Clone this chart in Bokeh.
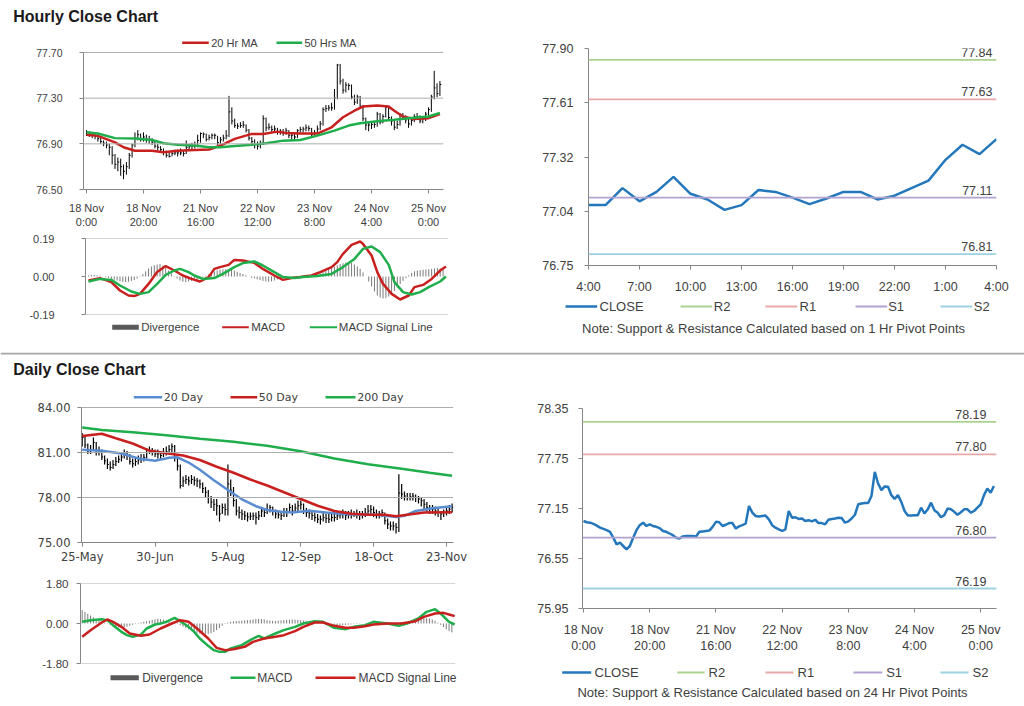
from bokeh.plotting import figure
from bokeh.models import Range1d, FixedTicker, Span
from bokeh.layouts import column, row
from bokeh.embed import file_html
from bokeh.resources import INLINE
from bokeh.core.properties import value

# ---------------------------------------------------------------- data
hourly_close = [
    77.00, 76.985, 76.98, 76.965, 76.945, 76.92, 76.905, 76.89, 76.87, 76.80,
    76.72, 76.74, 76.70, 76.66, 76.70, 76.80, 76.89, 76.95, 76.98, 76.94,
    76.96, 76.94, 76.93, 76.915, 76.88, 76.87, 76.85, 76.83, 76.80, 76.79,
    76.815, 76.82, 76.82, 76.82, 76.815, 76.87, 76.875, 76.88, 76.885, 76.93,
    76.99, 76.985, 76.94, 76.955, 76.975, 76.975, 76.91, 76.935, 76.95, 76.97,
    77.18, 77.10, 77.06, 77.055, 77.06, 77.065, 77.02, 76.95, 76.92, 76.90,
    76.88, 76.90, 77.12, 77.04, 77.045, 77.025, 77.03, 77.00, 77.01, 76.995,
    77.015, 76.975, 76.975, 76.96, 77.015, 77.025, 77.03, 77.04, 77.035, 76.98,
    76.995, 77.03, 77.075, 77.20, 77.21, 77.215, 77.215, 77.30, 77.59, 77.45,
    77.37, 77.415, 77.41, 77.31, 77.265, 77.31, 77.23, 77.12, 77.065, 77.065,
    77.07, 77.07, 77.16, 77.09, 77.14, 77.22, 77.13, 77.10, 77.045, 77.07,
    77.15, 77.14, 77.11, 77.075, 77.105, 77.14, 77.14, 77.10, 77.12, 77.16,
    77.20, 77.31, 77.39, 77.34, 77.42]
hourly_high = [
    77.02, 77.01, 77.00, 76.99, 76.97, 76.95, 76.93, 76.92, 76.90, 76.88,
    76.81, 76.78, 76.77, 76.72, 76.74, 76.82, 76.90, 77.00, 77.02, 76.99,
    77.00, 76.98, 76.97, 76.95, 76.93, 76.90, 76.88, 76.86, 76.84, 76.83,
    76.84, 76.85, 76.85, 76.86, 76.84, 76.93, 76.90, 76.91, 76.92, 76.98,
    77.00, 77.00, 76.99, 76.98, 76.99, 76.99, 76.97, 76.96, 76.98, 77.02,
    77.32, 77.22, 77.12, 77.08, 77.09, 77.10, 77.07, 77.03, 76.96, 76.94,
    76.92, 76.93, 77.15, 77.13, 77.08, 77.06, 77.06, 77.04, 77.03, 77.03,
    77.04, 77.02, 77.00, 77.00, 77.03, 77.05, 77.05, 77.07, 77.06, 77.04,
    77.02, 77.06, 77.10, 77.22, 77.24, 77.24, 77.26, 77.38, 77.60, 77.60,
    77.47, 77.44, 77.43, 77.42, 77.33, 77.33, 77.32, 77.24, 77.13, 77.09,
    77.09, 77.10, 77.18, 77.17, 77.16, 77.23, 77.23, 77.14, 77.11, 77.10,
    77.17, 77.17, 77.15, 77.12, 77.13, 77.16, 77.17, 77.15, 77.14, 77.18,
    77.22, 77.33, 77.54, 77.43, 77.45]
hourly_low = [
    76.97, 76.96, 76.95, 76.94, 76.92, 76.90, 76.88, 76.86, 76.80, 76.72,
    76.68, 76.66, 76.62, 76.59, 76.63, 76.68, 76.78, 76.87, 76.93, 76.92,
    76.92, 76.91, 76.90, 76.89, 76.86, 76.84, 76.82, 76.80, 76.78, 76.78,
    76.79, 76.80, 76.79, 76.80, 76.79, 76.81, 76.84, 76.85, 76.86, 76.87,
    76.91, 76.95, 76.92, 76.93, 76.94, 76.94, 76.89, 76.90, 76.92, 76.94,
    76.96, 77.07, 77.04, 77.03, 77.04, 77.04, 77.00, 76.93, 76.89, 76.86,
    76.85, 76.86, 76.89, 77.01, 77.02, 77.00, 77.00, 76.98, 76.98, 76.97,
    76.98, 76.95, 76.94, 76.94, 76.95, 77.00, 77.00, 77.01, 77.01, 76.96,
    76.97, 76.98, 77.02, 77.06, 77.18, 77.19, 77.19, 77.20, 77.29, 77.42,
    77.34, 77.35, 77.37, 77.29, 77.24, 77.25, 77.21, 77.10, 77.02, 77.01,
    77.03, 77.04, 77.05, 77.07, 77.08, 77.13, 77.10, 77.06, 77.02, 77.03,
    77.06, 77.11, 77.08, 77.04, 77.06, 77.09, 77.11, 77.08, 77.08, 77.10,
    77.14, 77.18, 77.29, 77.31, 77.32]
hourly_tick_idx = [0, 20, 40, 60, 80, 100, 120]
hourly_tick_labels = ["18 Nov\n0:00", "18 Nov\n20:00", "21 Nov\n16:00", "22 Nov\n12:00",
                      "23 Nov\n8:00", "24 Nov\n4:00", "25 Nov\n0:00"]
hourly_y_ticks = [76.5, 76.9, 77.3, 77.7]
hourly_y_labels = ["76.50", "76.90", "77.30", "77.70"]

ma20_idx = [0, 4, 10, 13, 17, 23, 27, 32, 38, 43, 47, 52, 58, 62, 67, 70, 75, 81, 86, 90,
            94, 97, 102, 106, 108, 111, 115, 120, 124]
ma20_val = [76.98, 76.97, 76.913, 76.87, 76.84, 76.84, 76.826, 76.84, 76.847, 76.85,
            76.885, 76.943, 76.987, 76.987, 77.007, 76.995, 76.99, 76.99, 77.045, 77.133,
            77.19, 77.226, 77.235, 77.226, 77.19, 77.139, 77.118, 77.125, 77.16]
ma50_idx = [0, 4, 10, 17, 23, 27, 32, 38, 43, 47, 52, 58, 63, 69, 75, 81, 87, 92, 96, 102,
            108, 114, 120, 124]
ma50_val = [77.001, 76.99, 76.95, 76.947, 76.934, 76.905, 76.893, 76.885, 76.87, 76.87,
            76.88, 76.893, 76.905, 76.928, 76.934, 76.972, 77.016, 77.06, 77.08, 77.098,
            77.11, 77.127, 77.139, 77.17]

hmacd_idx = [0, 4, 8, 11, 14, 16, 18, 21, 24, 27, 30, 33, 36, 39, 42, 44, 46, 49, 51, 54,
             58, 61, 65, 68, 71, 74, 78, 81, 85, 87, 89, 92, 95, 96, 99, 101, 103, 106, 109,
             112, 114, 117, 120, 123, 125]
hmacd_val = [-0.02, -0.008, -0.028, -0.07, -0.095, -0.098, -0.087, -0.037, 0.022, 0.052,
             0.03, 0.005, -0.012, -0.025, -0.003, 0.038, 0.047, 0.058, 0.083, 0.08,
             0.068, 0.038, 0.005, -0.017, -0.008, -0.003, 0.005, 0.022, 0.047, 0.072,
             0.113, 0.158, 0.175, 0.163, 0.105, 0.022, -0.037, -0.087, -0.115,
             -0.095, -0.053, -0.042, -0.012, 0.03, 0.05]
hsig_idx = [0, 4, 8, 11, 15, 18, 21, 24, 27, 30, 32, 35, 37, 40, 44, 47, 51, 54, 58, 61,
            65, 68, 72, 75, 80, 85, 89, 93, 96, 99, 102, 105, 107, 110, 113, 116, 119, 123, 125]
hsig_val = [-0.025, -0.012, -0.017, -0.045, -0.075, -0.087, -0.078, -0.037, 0.008, 0.03,
            0.038, 0.022, 0.005, -0.012, -0.008, 0.013, 0.047, 0.067, 0.075, 0.055,
            0.022, -0.003, -0.008, -0.003, 0.002, 0.013, 0.047, 0.088, 0.138, 0.15,
            0.122, 0.058, -0.028, -0.078, -0.09, -0.078, -0.053, -0.025, 0.0]
hourly_div = [
    0.005, 0.008, 0.008, 0.006, 0.004, 0.0, -0.004, -0.008,
    -0.012, -0.016, -0.020, -0.025, -0.027, -0.028, -0.026, -0.022,
    -0.018, -0.010, -0.002, 0.012, 0.026, 0.040, 0.050, 0.056,
    0.060, 0.062, 0.055, 0.044, 0.030, 0.015, 0.002, -0.010,
    -0.020, -0.026, -0.028, -0.025, -0.022, -0.018, -0.015, -0.010,
    -0.004, 0.004, 0.010, 0.018, 0.025, 0.030, 0.034, 0.036,
    0.036, 0.035, 0.034, 0.030, 0.024, 0.018, 0.012, 0.006,
    0.0, -0.006, -0.010, -0.014, -0.018, -0.022, -0.025, -0.026,
    -0.024, -0.020, -0.015, -0.010, -0.006, -0.003, 0.0, 0.002,
    0.003, 0.002, 0.001, 0.002, 0.004, 0.006, 0.008, 0.012,
    0.016, 0.020, 0.026, 0.032, 0.038, 0.044, 0.050, 0.056,
    0.062, 0.066, 0.070, 0.072, 0.068, 0.060, 0.050, 0.038,
    0.020, 0.000, -0.025, -0.050, -0.075, -0.095, -0.105, -0.110,
    -0.108, -0.100, -0.088, -0.072, -0.055, -0.038, -0.022, -0.008,
    0.006, 0.018, 0.026, 0.030, 0.032, 0.034, 0.035, 0.036,
    0.038, 0.040, 0.042, 0.040, 0.038]
hmacd_y_ticks = [-0.19, 0.0, 0.19]
hmacd_y_labels = ["-0.19", "0.00", "0.19"]

# 1 Hr pivot chart (last 25 hourly closes)
pivot1_tick_idx = [0, 3, 6, 9, 12, 15, 18, 21, 24]
pivot1_tick_labels = ["4:00", "7:00", "10:00", "13:00", "16:00", "19:00", "22:00", "1:00", "4:00"]
pivot1_y_ticks = [76.75, 77.0375, 77.325, 77.6125, 77.90]
pivot1_y_labels = ["76.75", "77.04", "77.32", "77.61", "77.90"]
pivot_names = ["R2", "R1", "S1", "S2"]
pivot1_levels = [77.84, 77.63, 77.11, 76.81]

# 24 Hr pivot chart
pivot24_y_ticks = [75.95, 76.55, 77.15, 77.75, 78.35]
pivot24_y_labels = ["75.95", "76.55", "77.15", "77.75", "78.35"]
pivot24_levels = [78.19, 77.80, 76.80, 76.19]

# daily
daily_close = [
    82.0, 81.5, 81.1, 81.2, 81.67, 81.0, 81.1, 80.7, 80.45, 80.2,
    80.0, 80.2, 80.4, 80.55, 80.7, 80.9, 80.8, 80.4, 80.25, 80.4,
    80.5, 80.56, 80.67, 81.0, 81.15, 81.05, 80.9, 80.9, 80.8, 80.95,
    81.05, 81.2, 81.4, 80.67, 80.1, 78.8, 79.1, 79.2, 79.1, 79.2,
    79.15, 79.1, 78.9, 78.6, 78.35, 78.0, 77.7, 77.55, 77.45, 76.9,
    77.33, 77.2, 78.9, 78.5, 77.8, 77.1, 77.0, 76.9, 76.78, 76.7,
    76.75, 76.78, 76.67, 76.78, 77.1, 77.0, 77.2, 77.33, 77.1, 76.9,
    76.85, 76.8, 77.0, 77.0, 77.33, 77.1, 77.3, 77.45, 77.55, 77.1,
    77.0, 76.95, 76.8, 76.67, 76.55, 76.55, 76.67, 76.6, 76.55, 76.67,
    76.67, 76.78, 76.85, 76.9, 76.8, 76.85, 76.9, 76.9, 76.9, 76.8,
    76.85, 76.95, 77.1, 77.2, 77.0, 76.9, 76.9, 77.0, 76.45, 76.22,
    76.1, 76.1, 76.0, 78.3, 78.22, 78.1, 78.0, 78.05, 78.1, 78.0,
    77.9, 77.78, 77.55, 77.35, 77.22, 77.22, 77.1, 77.0, 76.9, 77.0,
    77.1, 77.22, 77.35]
daily_high = [
    82.3, 82.1, 81.6, 81.5, 82.0, 81.7, 81.4, 81.2, 80.8, 80.6,
    80.4, 80.5, 80.7, 80.8, 81.0, 81.2, 81.1, 80.9, 80.6, 80.7,
    80.8, 80.9, 80.9, 81.3, 81.4, 81.3, 81.2, 81.2, 81.1, 81.3,
    81.4, 81.5, 81.6, 81.5, 80.7, 80.2, 79.4, 79.5, 79.4, 79.5,
    79.4, 79.3, 79.2, 79.0, 78.7, 78.5, 78.1, 77.9, 77.9, 77.5,
    77.6, 77.6, 80.2, 79.2, 78.7, 77.9, 77.4, 77.2, 77.1, 77.0,
    77.0, 77.0, 77.0, 77.1, 77.3, 77.3, 77.6, 77.5, 77.4, 77.2,
    77.1, 77.1, 77.3, 77.3, 77.6, 77.5, 77.6, 77.8, 77.8, 77.6,
    77.3, 77.2, 77.1, 77.0, 76.9, 76.8, 77.0, 76.9, 76.9, 77.0,
    76.9, 77.0, 77.1, 77.2, 77.1, 77.1, 77.2, 77.1, 77.2, 77.1,
    77.1, 77.3, 77.5, 77.5, 77.4, 77.2, 77.1, 77.2, 77.0, 76.6,
    76.4, 76.4, 76.3, 79.55, 78.9, 78.4, 78.3, 78.3, 78.3, 78.2,
    78.1, 78.0, 77.9, 77.7, 77.5, 77.5, 77.4, 77.3, 77.1, 77.2,
    77.4, 77.5, 77.6]
daily_low = [
    81.4, 81.3, 80.9, 80.9, 81.1, 80.8, 80.8, 80.5, 80.2, 79.9,
    79.8, 79.9, 80.1, 80.3, 80.4, 80.6, 80.5, 80.2, 80.0, 80.1,
    80.2, 80.3, 80.4, 80.6, 80.9, 80.8, 80.7, 80.6, 80.5, 80.7,
    80.8, 80.9, 81.0, 80.4, 79.8, 78.6, 78.7, 78.9, 78.8, 78.9,
    78.8, 78.7, 78.6, 78.3, 78.0, 77.6, 77.3, 77.1, 76.8, 76.4,
    76.9, 76.8, 76.8, 78.1, 77.4, 76.8, 76.6, 76.5, 76.5, 76.4,
    76.5, 76.5, 76.2, 76.5, 76.7, 76.7, 76.9, 77.0, 76.8, 76.6,
    76.6, 76.5, 76.7, 76.7, 77.0, 76.8, 77.0, 77.1, 77.2, 76.9,
    76.7, 76.6, 76.5, 76.4, 76.3, 76.2, 76.4, 76.3, 76.3, 76.4,
    76.4, 76.5, 76.6, 76.6, 76.5, 76.6, 76.6, 76.7, 76.6, 76.5,
    76.6, 76.7, 76.8, 76.9, 76.7, 76.6, 76.6, 76.7, 76.2, 75.9,
    75.8, 75.8, 75.6, 75.7, 77.9, 77.8, 77.8, 77.8, 77.8, 77.7,
    77.6, 77.4, 77.2, 77.0, 76.9, 76.9, 76.8, 76.7, 76.5, 76.7,
    76.8, 76.9, 77.0]
daily_tick_idx = [0, 26, 52, 78, 104, 130]
daily_tick_labels = ["25-May", "30-Jun", "5-Aug", "12-Sep", "18-Oct", "23-Nov"]
daily_y_ticks = [75, 78, 81, 84]
daily_y_labels = ["75.00", "78.00", "81.00", "84.00"]

d20_idx = [0, 7, 14, 21, 26, 31, 34, 38, 42, 47, 52, 57, 62, 66, 71, 75, 81, 87, 93, 99,
           105, 112, 115, 119, 125, 132]
d20_val = [81.18, 81.11, 80.93, 80.56, 80.45, 80.65, 80.68, 80.33, 79.85, 79.15, 78.5,
           77.88, 77.42, 77.17, 77.05, 77.0, 77.12, 77.0, 76.9, 76.85, 76.85, 76.7, 76.78,
           77.1, 77.28, 77.42]
d50_idx = [0, 7, 12, 18, 24, 30, 36, 42, 48, 54, 60, 66, 72, 78, 84, 90, 96, 102, 108,
           112, 116, 122, 132]
d50_val = [82.1, 82.25, 81.95, 81.6, 81.12, 80.95, 80.8, 80.5, 80.05, 79.65, 79.2, 78.8,
           78.35, 77.9, 77.45, 77.1, 76.92, 76.85, 76.85, 76.75, 76.85, 77.0, 77.02]
d200_idx = [0, 7, 18, 30, 42, 54, 66, 78, 90, 102, 114, 124, 132]
d200_val = [82.66, 82.5, 82.35, 82.15, 81.92, 81.72, 81.45, 81.08, 80.6, 80.22, 79.92,
            79.65, 79.45]

dmacd_idx = [0, 3, 7, 9, 11, 14, 16, 18, 21, 23, 26, 28, 30, 33, 35, 38, 40, 42, 45, 47,
             49, 51, 53, 57, 60, 63, 65, 69, 72, 76, 79, 83, 86, 90, 94, 97, 101, 104, 109,
             113, 116, 120, 123, 126, 128, 131, 133]
dmacd_val = [0.075, 0.15, 0.195, 0.15, -0.075, -0.375, -0.525, -0.6, -0.5, -0.225, -0.045,
             0.0, 0.075, 0.255, 0.105, -0.15, -0.375, -0.675, -1.005, -1.2, -1.275, -1.275,
             -1.125, -0.975, -0.75, -0.555, -0.675, -0.45, -0.3, -0.15, 0.0, 0.105, 0.075,
             -0.195, -0.255, -0.15, -0.075, 0.075, 0.0, -0.105, 0.0, 0.225, 0.525, 0.645,
             0.45, 0.075, -0.045]
dsig_idx = [0, 3, 7, 9, 11, 14, 17, 21, 24, 28, 32, 35, 38, 41, 45, 48, 51, 54, 58, 61,
            65, 69, 72, 76, 79, 83, 86, 90, 94, 97, 101, 104, 109, 114, 119, 122, 126, 129,
            131, 133]
dsig_val = [-0.6, -0.3, 0.045, 0.18, 0.075, -0.15, -0.45, -0.555, -0.495, -0.225, 0.0, 0.15,
            0.075, -0.225, -0.675, -1.095, -1.2, -1.155, -1.05, -0.825, -0.675, -0.6, -0.525,
            -0.345, -0.15, 0.045, 0.045, -0.105, -0.195, -0.195, -0.12, -0.045, 0.0, 0.0,
            0.105, 0.3, 0.45, 0.48, 0.405, 0.33]
daily_div = [
    0.60, 0.52, 0.44, 0.36, 0.28, 0.20, 0.14, 0.08, 0.03, -0.02,
    -0.06, -0.10, -0.14, -0.17, -0.18, -0.17, -0.14, -0.10, -0.06, -0.02,
    0.02, 0.05, 0.08, 0.10, 0.13, 0.16, 0.19, 0.21, 0.20, 0.17,
    0.13, 0.09, 0.05, 0.01, -0.03, -0.08, -0.14, -0.20, -0.26, -0.32,
    -0.37, -0.42, -0.45, -0.47, -0.48, -0.47, -0.44, -0.38, -0.30, -0.20,
    -0.10, -0.02, 0.04, 0.08, 0.10, 0.11, 0.12, 0.13, 0.14, 0.15,
    0.16, 0.18, 0.20, 0.21, 0.20, 0.18, 0.15, 0.13, 0.12, 0.12,
    0.13, 0.14, 0.15, 0.16, 0.17, 0.18, 0.17, 0.16, 0.15, 0.13,
    0.11, 0.09, 0.07, 0.05, 0.03, 0.01, -0.01, -0.03, -0.05, -0.07,
    -0.08, -0.09, -0.09, -0.08, -0.07, -0.05, -0.04, -0.03, -0.02, -0.01,
    0.0, 0.01, 0.02, 0.03, 0.03, 0.02, 0.01, 0.0, -0.02, -0.04,
    -0.05, -0.05, -0.04, 0.02, 0.06, 0.08, 0.09, 0.10, 0.12, 0.14,
    0.17, 0.20, 0.23, 0.24, 0.22, 0.18, 0.12, 0.04, -0.06, -0.16,
    -0.26, -0.34, -0.40]
dmacd_y_ticks = [-1.8, 0.0, 1.8]
dmacd_y_labels = ["-1.80", "0.00", "1.80"]

# ---------------------------------------------------------------- style
ARIAL = "Liberation Sans"
DEJAVU = "DejaVu Sans"
TXT = "#404040"
AXC = "#868686"
GRID = "#ADADAD"
RED = "#C8201E"
GREEN = "#1FAE4B"
BLUE_D = "#5A8CD2"
GREY_DIV = "#7A7A7A"
SWATCH = "#595959"
CLOSE_C = "#2477BB"
LEVEL_C = ["#ABD28F", "#E8A9A9", "#B2A2CF", "#9DD1E3"]
SEP_C = "#A6A6A6"

W, LW, RW = 1024, 498, 526


def panel(w, h, xr, yr, ml, mr, mt, mb, xaxis=True):
    p = figure(width=w, height=h, x_range=Range1d(*xr), y_range=Range1d(*yr),
               x_axis_location="below" if xaxis else None, y_axis_location="left",
               output_backend="svg", toolbar_location=None, frame_align=False,
               min_border_left=ml, min_border_right=mr, min_border_top=mt, min_border_bottom=mb)
    p.outline_line_color = None
    p.grid.visible = False
    p.background_fill_color = "white"
    p.border_fill_color = "white"
    return p


def strip(w, h):
    p = figure(width=w, height=h, x_range=Range1d(0, w), y_range=Range1d(h, 0),
               x_axis_location=None, y_axis_location=None,
               output_backend="svg", toolbar_location=None, frame_align=False,
               min_border_left=0, min_border_right=0, min_border_top=0, min_border_bottom=0)
    p.outline_line_color = None
    p.grid.visible = False
    return p


def style_axis(ax, ticks, labels, font, size, standoff, bounds=None):
    ax.ticker = FixedTicker(ticks=list(ticks))
    ax.major_label_overrides = {t: l for t, l in zip(ticks, labels)}
    ax.axis_line_color = AXC
    ax.major_tick_line_color = AXC
    ax.major_tick_in = 0
    ax.major_tick_out = 4
    ax.minor_tick_line_color = None
    ax.major_label_text_font = font
    ax.major_label_text_font_size = size
    ax.major_label_text_color = TXT
    ax.major_label_standoff = standoff
    if bounds is not None:
        ax.bounds = bounds


def gridlines(p, locs):
    for v in locs:
        p.add_layout(Span(location=v, dimension="width", line_color=GRID, line_width=1))


def put_text(p, x, y, s, size, font=ARIAL, color=TXT, align="left", baseline="middle",
             style="normal", rn=None):
    kw = dict(x_range_name=rn, y_range_name=rn) if rn else {}
    p.text(x=[x], y=[y], text=[s], text_font=value(font), text_font_size=size,
           text_color=color, text_align=align, text_baseline=baseline,
           text_font_style=style, **kw)


def put_seg(p, x0, x1, y, color, lw, rn=None):
    kw = dict(x_range_name=rn, y_range_name=rn) if rn else {}
    p.segment(x0=[x0], y0=[y], x1=[x1], y1=[y], line_color=color, line_width=lw,
              line_cap="butt", **kw)


def add_px(p, fw, fh):
    p.extra_x_ranges = {"px": Range1d(0, fw)}
    p.extra_y_ranges = {"px": Range1d(fh, 0)}


hx = list(range(len(hourly_close)))
dx = list(range(len(daily_close)))

# ---------------------------------------------------------------- hourly candles (A)
stA = strip(LW, 28)
put_text(stA, 12.7, 7.5, "Hourly Close Chart", "16px", color="#1a1a1a",
         baseline="top", style="bold")

A_fh = 155
figA = panel(LW, 203, (-1.05, 125.26), (76.5, 76.5 + A_fh * 1.2 / 137), 83, 55, 6, 42)
add_px(figA, 360, A_fh)
style_axis(figA.yaxis[0], hourly_y_ticks, hourly_y_labels, ARIAL, "10.5px", 17,
           bounds=(hourly_y_ticks[0], hourly_y_ticks[-1]))
style_axis(figA.xaxis[0], hourly_tick_idx, hourly_tick_labels, ARIAL, "11px", 8)
gridlines(figA, hourly_y_ticks[1:])
figA.segment(x0=hx, y0=hourly_low, x1=hx, y1=hourly_high, line_color="black", line_width=1)
figA.segment(x0=hx, y0=hourly_close, x1=[x + 0.5 for x in hx], y1=hourly_close,
             line_color="black", line_width=1)
figA.line(ma20_idx, ma20_val, line_color=RED, line_width=2.5)
figA.line(ma50_idx, ma50_val, line_color=GREEN, line_width=2.5)
put_seg(figA, 98.7, 125.3, 8.3, RED, 2.5, rn="px")
put_text(figA, 127.7, 8.3, "20 Hr MA", "11px", rn="px")
put_seg(figA, 193, 218.7, 8.3, GREEN, 2.5, rn="px")
put_text(figA, 221, 8.3, "50 Hrs MA", "11px", rn="px")

# ---------------------------------------------------------------- hourly MACD (B)
figB = panel(LW, 89, (-1.05, 125.9), (-0.19, 0.19), 85, 50, 7, 6, xaxis=False)
style_axis(figB.yaxis[0], hmacd_y_ticks, hmacd_y_labels, ARIAL, "11px", 27)
gridlines(figB, [hmacd_y_ticks[0], hmacd_y_ticks[-1]])
figB.segment(x0=hx, y0=0, x1=hx, y1=hourly_div, line_color=GREY_DIV, line_width=1)
figB.line(hmacd_idx, hmacd_val, line_color=RED, line_width=2.5)
figB.line(hsig_idx, hsig_val, line_color=GREEN, line_width=2.5)

stB = strip(LW, 32)
put_seg(stB, 111.7, 138.3, 6.7, SWATCH, 5)
put_text(stB, 140.7, 6.7, "Divergence", "11.5px")
put_seg(stB, 221.7, 248.3, 6.7, RED, 2)
put_text(stB, 250.7, 6.7, "MACD", "11.5px")
put_seg(stB, 309.3, 336.7, 6.7, GREEN, 2)
put_text(stB, 338.3, 6.7, "MACD Signal Line", "11.5px")

# ---------------------------------------------------------------- 1 Hr pivot (C)
figC = panel(RW, 296, (0, 24), (pivot1_y_ticks[0], pivot1_y_ticks[-1]), 90, 28, 48, 31)
style_axis(figC.yaxis[0], pivot1_y_ticks, pivot1_y_labels, ARIAL, "12.5px", 11)
style_axis(figC.xaxis[0], pivot1_tick_idx, pivot1_tick_labels, ARIAL, "12.5px", 10)
pivot1_close = hourly_close[-25:]
figC.line(list(range(len(pivot1_close))), pivot1_close, line_color=CLOSE_C, line_width=2.5)
for lvl, col in zip(pivot1_levels, LEVEL_C):
    figC.add_layout(Span(location=lvl, dimension="width", line_color=col, line_width=1.8))
figC.text(x=[figC.x_range.end] * 4, y=pivot1_levels, text=["%.2f" % v for v in pivot1_levels],
          text_font=value(ARIAL), text_font_size="12.5px", text_color=TXT,
          text_align="right", text_baseline="bottom", x_offset=-4, y_offset=-3)

stC = strip(RW, 56)
put_seg(stC, 67, 98.7, 10, CLOSE_C, 2.5)
put_text(stC, 101, 10, "CLOSE", "13px")
for (x0, x1, tx), nm, col in zip([(182, 213.7, 215.3), (267, 298.7, 301),
                                  (357, 388.7, 389.7), (442, 473.7, 475.3)], pivot_names, LEVEL_C):
    put_seg(stC, x0, x1, 10, col, 1.8)
    put_text(stC, tx, 10, nm, "13px")
put_text(stC, 275, 32.3, "Note: Support & Resistance Calculated based on 1 Hr Pivot Points",
         "13px", align="center")

# ---------------------------------------------------------------- separator + daily title
stM = strip(W, 28)
put_seg(stM, 0, W, 1, SEP_C, 2)
put_text(stM, 12.7, 8.3, "Daily Close Chart", "16px", color="#1a1a1a",
         baseline="top", style="bold")

# ---------------------------------------------------------------- daily (D)
D_fh = 154
figD = panel(LW, 190, (-0.25, 132.5), (75, 75 + D_fh / 15.0), 81, 45, 8, 28)
add_px(figD, 372, D_fh)
style_axis(figD.yaxis[0], daily_y_ticks, daily_y_labels, DEJAVU, "11.5px", 7,
           bounds=(daily_y_ticks[0], daily_y_ticks[-1]))
style_axis(figD.xaxis[0], daily_tick_idx, daily_tick_labels, DEJAVU, "11.5px", 3)
gridlines(figD, daily_y_ticks[1:])
figD.segment(x0=dx, y0=daily_low, x1=dx, y1=daily_high, line_color="black", line_width=1.2)
figD.segment(x0=dx, y0=daily_close, x1=[x + 0.5 for x in dx], y1=daily_close,
             line_color="black", line_width=1)
figD.line(d20_idx, d20_val, line_color=BLUE_D, line_width=2.5)
figD.line(d50_idx, d50_val, line_color=RED, line_width=2.5)
figD.line(d200_idx, d200_val, line_color=GREEN, line_width=2.5)
put_seg(figD, 52.3, 80.7, 8.7, BLUE_D, 2.5, rn="px")
put_text(figD, 82.3, 8.7, "20 Day", "11px", font=DEJAVU, rn="px")
put_seg(figD, 149, 175.7, 8.7, RED, 2.5, rn="px")
put_text(figD, 177.3, 8.7, "50 Day", "11px", font=DEJAVU, rn="px")
put_seg(figD, 244, 274, 8.7, GREEN, 2.5, rn="px")
put_text(figD, 275.7, 8.7, "200 Day", "11px", font=DEJAVU, rn="px")

# ---------------------------------------------------------------- daily MACD (E)
figE = panel(LW, 99, (-0.6, 133.3), (-1.8, 1.8), 80, 43, 13, 6, xaxis=False)
style_axis(figE.yaxis[0], dmacd_y_ticks, dmacd_y_labels, ARIAL, "11.5px", 8)
gridlines(figE, [dmacd_y_ticks[0], dmacd_y_ticks[-1]])
figE.segment(x0=dx, y0=0, x1=dx, y1=daily_div, line_color=GREY_DIV, line_width=1)
figE.line(dmacd_idx, dmacd_val, line_color=GREEN, line_width=2.5)
figE.line(dsig_idx, dsig_val, line_color=RED, line_width=2.5)

stE = strip(LW, 31)
put_seg(stE, 110, 138.3, 8.3, SWATCH, 5)
put_text(stE, 141.7, 8.3, "Divergence", "12px")
put_seg(stE, 230, 255, 8.3, GREEN, 2.5)
put_text(stE, 256.7, 8.3, "MACD", "12px")
put_seg(stE, 315, 355, 8.3, RED, 2.5)
put_text(stE, 358, 8.3, "MACD Signal Line", "12px")

# ---------------------------------------------------------------- 24 Hr pivot (F)
figF = panel(RW, 276, (-0.302, 124.77), (pivot24_y_ticks[0], pivot24_y_ticks[-1]),
             84, 28, 28, 46)
style_axis(figF.yaxis[0], pivot24_y_ticks, pivot24_y_labels, ARIAL, "12.5px", 10)
style_axis(figF.xaxis[0], hourly_tick_idx, hourly_tick_labels, ARIAL, "12.5px", 10)
figF.line(hx, hourly_close, line_color=CLOSE_C, line_width=2.5)
for lvl, col in zip(pivot24_levels, LEVEL_C):
    figF.add_layout(Span(location=lvl, dimension="width", line_color=col, line_width=1.8))
figF.text(x=[figF.x_range.end] * 4, y=pivot24_levels, text=["%.2f" % v for v in pivot24_levels],
          text_font=value(ARIAL), text_font_size="12.5px", text_color=TXT,
          text_align="right", text_baseline="bottom", x_offset=-10, y_offset=-3)

stF = strip(RW, 44)
put_seg(stF, 63.7, 92.7, 16, CLOSE_C, 2.5)
put_text(stF, 96, 16, "CLOSE", "13px")
for (x0, x1, tx), nm, col in zip([(178.7, 206, 210), (267, 295, 299),
                                  (355, 383.7, 387.7), (442, 470, 474)], pivot_names, LEVEL_C):
    put_seg(stF, x0, x1, 16, col, 1.8)
    put_text(stF, tx, 16, nm, "13px")
put_text(stF, 274, 36, "Note: Support & Resistance Calculated based on 24 Hr Pivot Points",
         "13px", align="center")

stBot = strip(W, 6)
put_seg(stBot, 0, W, 3.5, SEP_C, 2)

# ---------------------------------------------------------------- layout
top = row(column(stA, figA, figB, stB), column(figC, stC))
bottom = row(column(figD, figE, stE), column(figF, stF))
page = column(top, stM, bottom, stBot)

open("out.html", "w").write(file_html(page, INLINE))
